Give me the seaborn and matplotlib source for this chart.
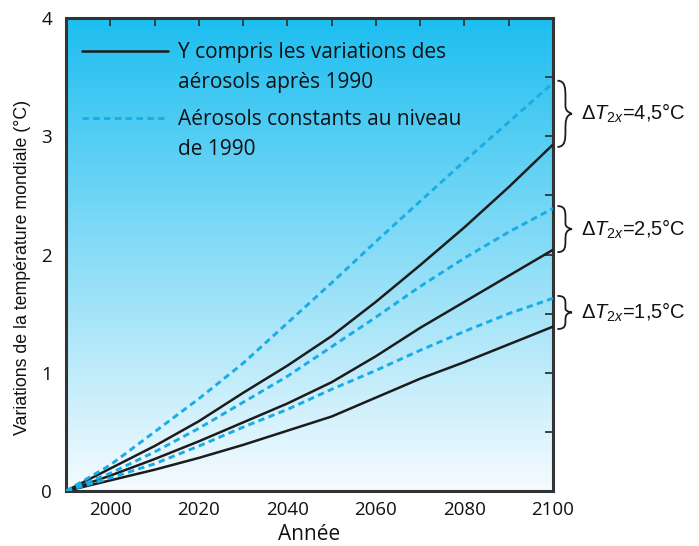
import numpy as np
import pandas as pd
import matplotlib
matplotlib.use("Agg")
import matplotlib.pyplot as plt
import seaborn as sns
from matplotlib.colors import LinearSegmentedColormap
from matplotlib.lines import Line2D
from matplotlib.legend_handler import HandlerLine2D
from matplotlib.path import Path
from matplotlib.patches import PathPatch
from matplotlib.ticker import MultipleLocator

# Data
years = [1990, 2000, 2010, 2020, 2030, 2040, 2050, 2060, 2070, 2080, 2090, 2100]

# solid = including aerosol changes after 1990, dashed = aerosols constant at 1990 level
solid_45 = [0, 0.19, 0.38, 0.59, 0.83, 1.06, 1.31, 1.60, 1.91, 2.23, 2.57, 2.93]
dashed_45 = [0, 0.22, 0.50, 0.78, 1.08, 1.42, 1.76, 2.11, 2.45, 2.79, 3.12, 3.45]
solid_25 = [0, 0.13, 0.27, 0.42, 0.58, 0.74, 0.92, 1.14, 1.38, 1.60, 1.82, 2.04]
dashed_25 = [0, 0.15, 0.33, 0.53, 0.75, 0.97, 1.22, 1.47, 1.73, 1.97, 2.19, 2.39]
solid_15 = [0, 0.09, 0.18, 0.28, 0.39, 0.51, 0.63, 0.79, 0.95, 1.09, 1.24, 1.39]
dashed_15 = [0, 0.11, 0.23, 0.38, 0.54, 0.69, 0.86, 1.02, 1.19, 1.35, 1.50, 1.63]

legend_labels = ["Y compris les variations des\naérosols après 1990",
                 "Aérosols constants au niveau\nde 1990"]
brace_labels = ["4,5", "2,5", "1,5"]

series = {
    ("4.5", "solid"): solid_45, ("4.5", "dashed"): dashed_45,
    ("2.5", "solid"): solid_25, ("2.5", "dashed"): dashed_25,
    ("1.5", "solid"): solid_15, ("1.5", "dashed"): dashed_15,
}
rows = []
for (sens, kind), vals in series.items():
    for y, v in zip(years, vals):
        rows.append({"year": y, "value": v, "sens": sens, "kind": kind})
df = pd.DataFrame(rows)

sns.set_theme(style="white")
plt.rcParams["font.family"] = ["Open Sans", "DejaVu Sans"]
plt.rcParams["mathtext.fontset"] = "custom"
plt.rcParams["mathtext.rm"] = "Liberation Sans"
plt.rcParams["mathtext.it"] = "Liberation Sans:italic"

BLUE = "#18ade6"
INK = "#1c1c1c"
DASH = (2.2, 1.5)

fig = plt.figure(figsize=(6.99, 5.46), dpi=100)
ax = fig.add_axes([0.0944, 0.1007, 0.6967, 0.8663])

# background gradient
grad = np.linspace(0, 1, 256).reshape(-1, 1)
cmap = LinearSegmentedColormap.from_list("sky", ["#f6fbfe", "#1dbef0"])
ax.imshow(grad, extent=[1990, 2100, 0, 4], origin="lower", aspect="auto",
          cmap=cmap, zorder=0)

for sens in ["4.5", "2.5", "1.5"]:
    sub = df[(df.sens == sens) & (df.kind == "solid")]
    sns.lineplot(data=sub, x="year", y="value", color=INK, lw=1.8, ax=ax,
                 zorder=3)
    sub = df[(df.sens == sens) & (df.kind == "dashed")]
    sns.lineplot(data=sub, x="year", y="value", color=BLUE, lw=2.1, ax=ax,
                 dashes=DASH, zorder=4)

ax.set_xlim(1990, 2100)
ax.set_ylim(0, 4)
ax.xaxis.set_minor_locator(MultipleLocator(10))
ax.set_xticks([2000, 2020, 2040, 2060, 2080, 2100])
ax.yaxis.set_major_locator(MultipleLocator(1))
ax.yaxis.set_minor_locator(MultipleLocator(0.5))
ax.tick_params(which="both", direction="in", length=6, width=1.3,
               color="#333333", top=True, right=True, labelsize=13.5,
               labelcolor="#111111")
ax.tick_params(axis="x", pad=7)
ax.tick_params(axis="y", pad=10)
for s in ax.spines.values():
    s.set_linewidth(2.2)
    s.set_color("#333333")

ax.set_xlabel("Année", fontsize=15, labelpad=3.5, color="#111111")
ax.set_ylabel("Variations de la température mondiale (°C)", fontsize=12.8,
              family="Liberation Sans", color="#111111")
ax.yaxis.set_label_coords(-0.072, 0.4725)


class TopLine(HandlerLine2D):
    # put the legend key next to the first line of a two-line label
    def create_artists(self, legend, orig_handle, xdescent, ydescent, width,
                       height, fontsize, trans):
        arts = super().create_artists(legend, orig_handle, xdescent, ydescent,
                                      width, height, fontsize, trans)
        for a in arts:
            a.set_ydata(np.asarray(a.get_ydata()) + 0.84 * fontsize)
        return arts


handles = [Line2D([], [], color=INK, lw=1.8),
           Line2D([], [], color=BLUE, lw=2.1, dashes=DASH)]
leg = ax.legend(handles, legend_labels, loc="upper left", frameon=False,
                fontsize=15, handlelength=4.1, handletextpad=0.5,
                labelspacing=0.8, borderaxespad=0,
                bbox_to_anchor=(0.016, 0.967),
                handler_map={Line2D: TopLine()})
for t in leg.get_texts():
    t.set_color("#111111")
    t.set_linespacing(1.55)

# braces with climate sensitivity labels
pairs = [(dashed_45[-1], solid_45[-1]), (dashed_25[-1], solid_25[-1]),
         (dashed_15[-1], solid_15[-1])]
x0, w = 2101.0, 3.3
for (ytop, ybot), lab in zip(pairs, brace_labels):
    ytop += 0.02
    ybot -= 0.02
    ym = 0.5 * (ytop + ybot)
    h = ytop - ybot
    xm = x0 + 0.55 * w
    verts = [(x0, ytop), (xm, ytop), (xm, ytop - 0.12 * h), (xm, ytop - 0.25 * h),
             (xm, ym + 0.12 * h),
             (xm, ym + 0.02 * h), (x0 + w, ym), (x0 + w, ym),
             (xm, ym - 0.02 * h), (xm, ym - 0.12 * h),
             (xm, ybot + 0.25 * h),
             (xm, ybot + 0.12 * h), (xm, ybot), (x0, ybot)]
    codes = [Path.MOVETO, Path.CURVE4, Path.CURVE4, Path.CURVE4, Path.LINETO,
             Path.CURVE4, Path.CURVE4, Path.CURVE4,
             Path.CURVE4, Path.CURVE4, Path.CURVE4,
             Path.CURVE4, Path.CURVE4, Path.CURVE4]
    ax.add_patch(PathPatch(Path(verts, codes), fill=False, lw=1.3, ec=INK,
                           clip_on=False, zorder=5))
    ax.text(x0 + w + 2.0, ym, r"$\Delta T_{2x}$=" + lab + "°C", fontsize=14.5,
            family="Liberation Sans", va="center", ha="left", color="#111111",
            clip_on=False)

fig.savefig("out.png", dpi=100)
